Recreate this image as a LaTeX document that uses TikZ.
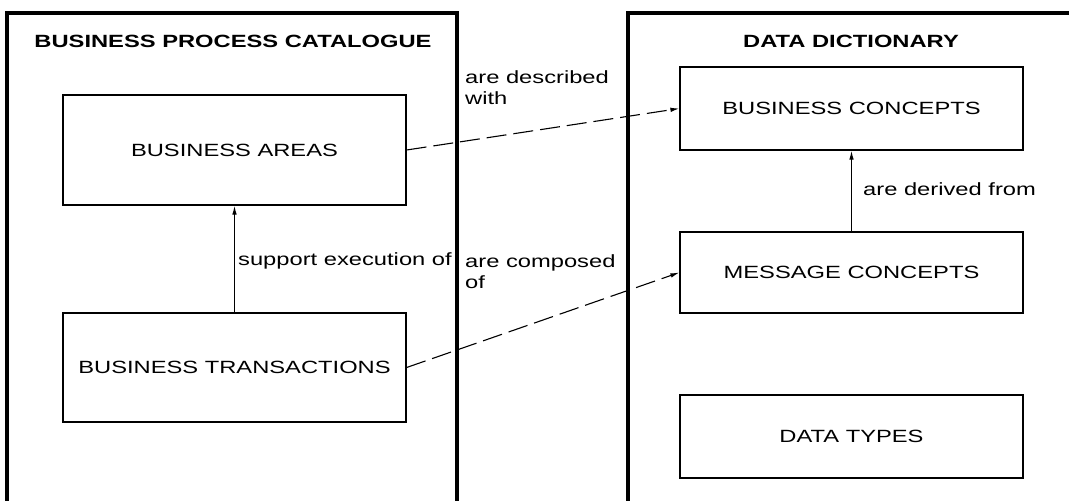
\documentclass[tikz,border=0pt]{standalone}
\usepackage{fontspec}
\setmainfont{Liberation Sans}[FakeStretch=1.34]
\usetikzlibrary{arrows.meta}
\begin{document}
\begin{tikzpicture}[x=1pt,y=-1pt,
  font=\fontsize{17.7}{21}\selectfont,
  frame/.style={line width=3.6pt},
  entity/.style={draw, line width=1.2pt, minimum width=343pt, inner sep=0pt, align=center},
  title/.style={font=\fontsize{17.7}{21}\selectfont\bfseries, inner sep=0pt, anchor=base},
  lbl/.style={inner sep=0pt, anchor=base west, align=left},
  rel/.style={line width=1.1pt, -{Latex[length=9pt,width=4.5pt]}},
  assoc/.style={rel, dash pattern=on 20pt off 7pt}]
\useasboundingbox (0,0) rectangle (1069,501);
\begin{scope}
\clip (0,0) rectangle (1069,501);
% open-bottomed containers
\draw[frame] (7,520) -- (7,13) -- (457,13) -- (457,520);
\draw[frame] (628,520) -- (628,13) -- (1090,13);
\end{scope}

% container titles
\node[title] (bpc) at (233,47) {BUSINESS PROCESS CATALOGUE};
\node[title] (dd) at (851,47) {DATA DICTIONARY};

% business process side
\node[entity, minimum height=110pt] (ba) at (234.5,150) {BUSINESS AREAS};
\node[entity, minimum height=109pt] (bt) at (234.5,367.5) {BUSINESS TRANSACTIONS};

% data dictionary side
\node[entity, minimum height=83pt] (bc) at (851.5,108.5) {BUSINESS CONCEPTS};
\node[entity, minimum height=81pt] (mc) at (851.5,272.5) {MESSAGE CONCEPTS};
\node[entity, minimum height=83pt] (dt) at (851.5,436.5) {DATA TYPES};

% relations
\draw[rel] (bt.north) -- (ba.south);
\draw[rel] (mc.north) -- (bc.south);
\draw[assoc] (ba.east) -- (bc.west);
\draw[assoc] (bt.east) -- (mc.west);

% relation labels
\node[lbl] (l1) at (238,265) {support execution of};
\node[lbl] (l2) at (863,195) {are derived from};
\node[lbl] (l3) at (465,104) {are described\\with};
\node[lbl] (l4) at (465,288) {are composed\\of};
\end{tikzpicture}
\end{document}
